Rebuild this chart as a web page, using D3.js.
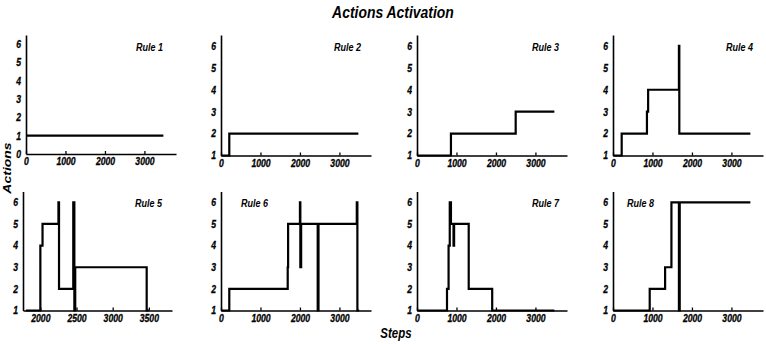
<!DOCTYPE html>
<html>
<head>
<meta charset="utf-8">
<script src="https://cdn.jsdelivr.net/npm/d3@7"></script>
<style>
  html, body { margin: 0; padding: 0; background: #fff; }
  svg text { font-family: "Liberation Sans", Arial, sans-serif; font-weight: bold; font-style: italic; fill: #000; }
</style>
</head>
<body>
<div id="chart"></div>
<script>
  // step change points (step where a new action starts) and the action taken
  var rule1Steps = [0, 3480]
    , rule1Vals = [1, 1]
    , rule2Steps = [0, 210, 3480]
    , rule2Vals = [1, 2, 2]
    , rule3Steps = [0, 860, 2500, 3480]
    , rule3Vals = [1, 2, 3, 3]
    , rule4Steps = [0, 220, 860, 890, 1670, 1680, 3480]
    , rule4Vals = [1, 2, 3, 4, 6, 2, 2]
    , rule5Steps = [1800, 2000, 2030, 2250, 2258, 2455, 2470, 2482, 3470, 3500]
    , rule5Vals = [1, 4, 5, 6, 2, 6, 1, 3, 1, 1]
    , rule6Steps = [0, 210, 1690, 1700, 2000, 2010, 2030, 2450, 2470, 3440, 3455, 3500]
    , rule6Vals = [1, 2, 3, 5, 6, 3, 5, 1, 5, 6, 1, 1]
    , rule7Steps = [0, 760, 800, 830, 860, 925, 940, 1310, 1905, 3480]
    , rule7Vals = [1, 2, 4, 6, 5, 4, 5, 2, 1, 1]
    , rule8Steps = [0, 930, 1320, 1480, 1670, 1690, 3480]
    , rule8Vals = [1, 2, 3, 6, 1, 6, 6]

  var ruleNames = ["Rule 1", "Rule 2", "Rule 3", "Rule 4", "Rule 5", "Rule 6", "Rule 7", "Rule 8"]
    , ruleSteps = [rule1Steps, rule2Steps, rule3Steps, rule4Steps, rule5Steps, rule6Steps, rule7Steps, rule8Steps]
    , ruleVals = [rule1Vals, rule2Vals, rule3Vals, rule4Vals, rule5Vals, rule6Vals, rule7Vals, rule8Vals]

  // axis ranges and tick labels
  var xDomains = [[0, 3800], [0, 3800], [0, 3800], [0, 3800], [1760, 3820], [0, 3800], [0, 3800], [0, 3800]]
    , yDomains = [[0, 6.5], [1, 6.5], [1, 6.5], [1, 6.5], [1, 6.5], [1, 6.5], [1, 6.5], [1, 6.5]]
    , xTicksMain = [0, 1000, 2000, 3000]
    , xTicksRule5 = [2000, 2500, 3000, 3500]
    , yTicksRule1 = [0, 1, 2, 3, 4, 5, 6]
    , yTicksOther = [1, 2, 3, 4, 5, 6]

  var width = 766
    , height = 344
    , squeeze = 0.82 // the figure text is horizontally condensed

  var svg = d3.select("#chart")
    .append("svg")
    .attr("width", width)
    .attr("height", height)

  // panel boxes: left, right, top, bottom (pixels)
  var colLeft = [26, 221, 417, 613]
    , boxes = ruleNames.map(function (d, i) {
        var col = i % 4
          , row = Math.floor(i / 4)
          , left = i === 4 ? 23 : colLeft[col]
          , w = i === 4 ? 149 : 150
          , top = row === 0 ? 35 : 191.5
          , bottom = row === 0 ? (i === 0 ? 154 : 155.5) : 310.5
        return { left: left, right: left + w, top: top, bottom: bottom }
      })

  // rule label placement
  var labelAnchor = ["end", "end", "end", "end", "end", "start", "end", "start"]
    , labelOffset = [-13, -10, -8, -10, -10, 20, -8, 14]

  function squeezeText (sel, x) {
    sel.attr("x", x / squeeze).attr("transform", "scale(" + squeeze + ",1)")
  }

  boxes.forEach(function (b, i) {
    var x = d3.scaleLinear().domain(xDomains[i]).range([b.left, b.right])
      , y = d3.scaleLinear().domain(yDomains[i]).range([b.bottom, b.top])
      , g = svg.append("g")

    var xAxis = d3.axisBottom(x)
      .tickValues(i === 4 ? xTicksRule5 : xTicksMain)
      .tickFormat(d3.format("d"))
      .tickSizeInner(-3)
      .tickSizeOuter(0)
      .tickPadding(4)

    var yAxis = d3.axisLeft(y)
      .tickValues(i === 0 ? yTicksRule1 : yTicksOther)
      .tickFormat(d3.format("d"))
      .tickSizeInner(0)
      .tickSizeOuter(0)
      .tickPadding(5)

    var gx = g.append("g")
      .attr("transform", "translate(0," + y(yDomains[i][0]) + ")")
      .call(xAxis)

    var gy = g.append("g")
      .attr("transform", "translate(" + x(xDomains[i][0]) + ",0)")
      .call(yAxis)

    g.selectAll(".domain").attr("stroke", "#000").attr("stroke-width", 1.6)
    g.selectAll(".tick line").attr("stroke", "#000").attr("stroke-width", 1.3)
    g.selectAll("g").attr("font-family", null).attr("font-size", null)
    g.selectAll(".tick text")
      .attr("font-size", 10.5)
      .attr("stroke", "#000")
      .attr("stroke-width", 0.3)
    gx.selectAll(".tick text").call(squeezeText, 0)
    gy.selectAll(".tick text").call(squeezeText, -5)

    var points = ruleSteps[i].map(function (s, k) { return [s, ruleVals[i][k]] })

    var line = d3.line()
      .x(function (d) { return x(d[0]) })
      .y(function (d) { return y(d[1]) })
      .curve(d3.curveStepAfter)

    g.append("path")
      .datum(points)
      .attr("d", line)
      .attr("fill", "none")
      .attr("stroke", "#000")
      .attr("stroke-width", 2.2)
      .attr("stroke-linejoin", "miter")

    var lx = labelAnchor[i] === "end" ? b.right + labelOffset[i] : b.left + labelOffset[i]
    g.append("text")
      .text(ruleNames[i])
      .attr("y", b.top + 16)
      .attr("text-anchor", labelAnchor[i])
      .attr("font-size", 11)
      .call(squeezeText, lx)
  })

  // titles
  svg.append("text")
    .text("Actions Activation")
    .attr("y", 18)
    .attr("text-anchor", "middle")
    .attr("font-size", 17)
    .call(squeezeText, 393)

  svg.append("text")
    .text("Steps")
    .attr("y", 338)
    .attr("text-anchor", "middle")
    .attr("font-size", 14)
    .call(squeezeText, 396)

  svg.append("text")
    .text("Actions")
    .attr("transform", "translate(11,168) rotate(-90) scale(1," + squeeze + ")")
    .attr("text-anchor", "middle")
    .attr("font-size", 14)
</script>
</body>
</html>
